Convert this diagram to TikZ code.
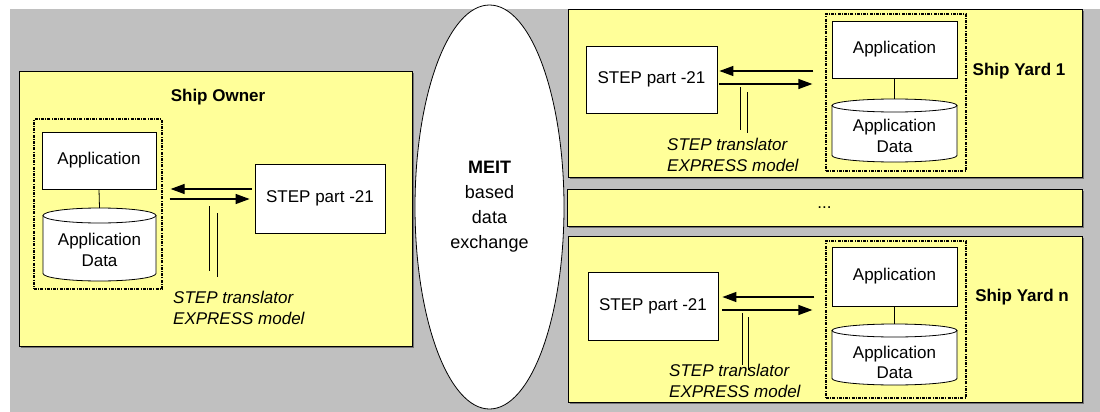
\documentclass[tikz,border=0pt]{standalone}
\usepackage{fontspec}
\setmainfont{Liberation Sans}
\usetikzlibrary{arrows.meta,shapes.geometric,shadows}
\definecolor{bggray}{HTML}{C0C0C0}
\definecolor{siteyellow}{HTML}{FFFF99}

% database cylinder: #1 centre x, #2 half width, #3 top-ellipse centre y, #4 bottom-arc centre y, #5 half height of ellipses
\newcommand\dbcylinder[5]{%
  \draw[line width=0.8pt, fill=white] (#1-#2,#3) -- (#1-#2,#4)
     arc[start angle=180, end angle=360, x radius=#2pt, y radius=#5pt] -- (#1+#2,#3);
  \draw[line width=0.8pt, fill=white] (#1,#3) ellipse[x radius=#2pt, y radius=#5pt];
}

\begin{document}
\begin{tikzpicture}[x=1pt, y=-1pt,
  font=\fontsize{17pt}{20.5pt}\selectfont,
  site/.style={draw=black, line width=1pt, fill=siteyellow, inner sep=0pt,
    drop shadow={shadow xshift=1.5pt, shadow yshift=-1.5pt, fill=black!55, opacity=1}},
  plainbox/.style={draw=black, line width=0.8pt, fill=white, inner sep=0pt, align=center},
  group/.style={draw=black, line width=1.3pt, inner sep=0pt,
    dash pattern=on 3pt off 1.2pt on 1pt off 1.2pt},
  flow/.style={line width=1.3pt, -{Triangle[length=14pt,width=10pt]}},
  link/.style={line width=0.8pt},
  translator/.style={line width=0.9pt},
  note/.style={anchor=west, align=left, font=\fontsize{17pt}{21pt}\selectfont\itshape, inner sep=0pt},
  title/.style={font=\fontsize{17pt}{20pt}\selectfont\bfseries, inner sep=0pt},
  dbtext/.style={align=center, inner sep=0pt, font=\fontsize{17pt}{20.5pt}\selectfont}]

\useasboundingbox (0,0) rectangle (1100,412);
\fill[bggray] (10,9) rectangle (1100,412);

% ---------------- Ship owner ----------------
\node[site, minimum width=393pt, minimum height=274pt] (so) at (215.5,209) {};
\node[title] (so-title) at (218,97) {Ship Owner};
\node[group, minimum width=128pt, minimum height=170pt] (so-grp) at (98,204) {};
\node[plainbox, minimum width=114pt, minimum height=57pt] (so-app) at (99,160.5) {Application};
\dbcylinder{99.5}{56.5}{215.5}{273.5}{7.5}
\coordinate (so-dbtop) at (99.5,208);
\node[dbtext] (so-db) at (99.5,250) {Application\\Data};
\draw[link] (so-app.south) -- (so-dbtop);
\node[plainbox, minimum width=130pt, minimum height=69pt] (so-step) at (320,198.5) {STEP part -21};
\draw[flow] ([xshift=-3pt,yshift=9.5pt]so-step.west) -- ([xshift=8pt,yshift=15pt]so-grp.east);
\draw[flow] ([xshift=7pt,yshift=5pt]so-grp.east) -- ([xshift=-5pt,yshift=-0.5pt]so-step.west);
\draw[translator] (209,206) -- (209,271);
\draw[translator] (217,213) -- (217,277);
\node[note] (so-tr) at (173,307.5) {STEP translator\\EXPRESS model};

% ---------------- MEIT exchange ----------------
\node[ellipse, draw=black, line width=0.8pt, fill=white, inner sep=0pt,
  minimum width=149pt, minimum height=404pt, align=center,
  font=\fontsize{18pt}{25pt}\selectfont] (meit) at (489.5,207)
  {\textbf{MEIT}\\based\\data\\exchange};

% ---------------- Ship yard 1 ----------------
\node[site, minimum width=514pt, minimum height=167pt] (y1) at (825,93.5) {};
\node[title] (y1-title) at (1019,71) {Ship Yard 1};
\node[group, minimum width=140pt, minimum height=157pt] (y1-grp) at (896,92.5) {};
\node[plainbox, minimum width=125pt, minimum height=57pt] (y1-app) at (894.5,49.5) {Application};
\dbcylinder{894.5}{62.5}{105.5}{155.5}{6.5}
\coordinate (y1-dbtop) at (894.5,99);
\node[dbtext] (y1-db) at (894.5,136) {Application\\Data};
\draw[link] (y1-app.south) -- (y1-dbtop);
\node[plainbox, minimum width=131pt, minimum height=67pt] (y1-step) at (651.5,79.5) {STEP part -21};
\draw[flow] ([xshift=-12pt,yshift=21.5pt]y1-grp.west) -- ([xshift=2pt,yshift=8.5pt]y1-step.east);
\draw[flow] ([xshift=2pt,yshift=-4.5pt]y1-step.east) -- ([xshift=-13pt,yshift=8.5pt]y1-grp.west);
\draw[translator] (740,87) -- (740,130);
\draw[translator] (747,92) -- (747,133);
\node[note] (y1-tr) at (667,154.5) {STEP translator\\EXPRESS model};

% ---------------- further yards ----------------
\node[site, minimum width=515pt, minimum height=37pt] (ym) at (824.5,207.5) {...};

% ---------------- Ship yard n ----------------
\node[site, minimum width=514pt, minimum height=166pt] (yn) at (825,319) {};
\node[title] (yn-title) at (1022,297) {Ship Yard n};
\node[group, minimum width=140pt, minimum height=157pt] (yn-grp) at (896,319.5) {};
\node[plainbox, minimum width=125pt, minimum height=59pt] (yn-app) at (894.5,276.5) {Application};
\dbcylinder{894.5}{62.5}{330.5}{378.5}{6.5}
\coordinate (yn-dbtop) at (894.5,324);
\node[dbtext] (yn-db) at (894.5,362.5) {Application\\Data};
\draw[link] (yn-app.south) -- (yn-dbtop);
\node[plainbox, minimum width=130pt, minimum height=68pt] (yn-step) at (653,306) {STEP part -21};
\draw[flow] ([xshift=-11pt,yshift=22.5pt]yn-grp.west) -- ([xshift=4pt,yshift=9pt]yn-step.east);
\draw[flow] ([xshift=4pt,yshift=-4pt]yn-step.east) -- ([xshift=-13pt,yshift=9.5pt]yn-grp.west);
\draw[translator] (742,313) -- (742,365);
\draw[translator] (748,317) -- (748,370);
\node[note] (yn-tr) at (669,381) {STEP translator\\EXPRESS model};
\end{tikzpicture}
\end{document}
